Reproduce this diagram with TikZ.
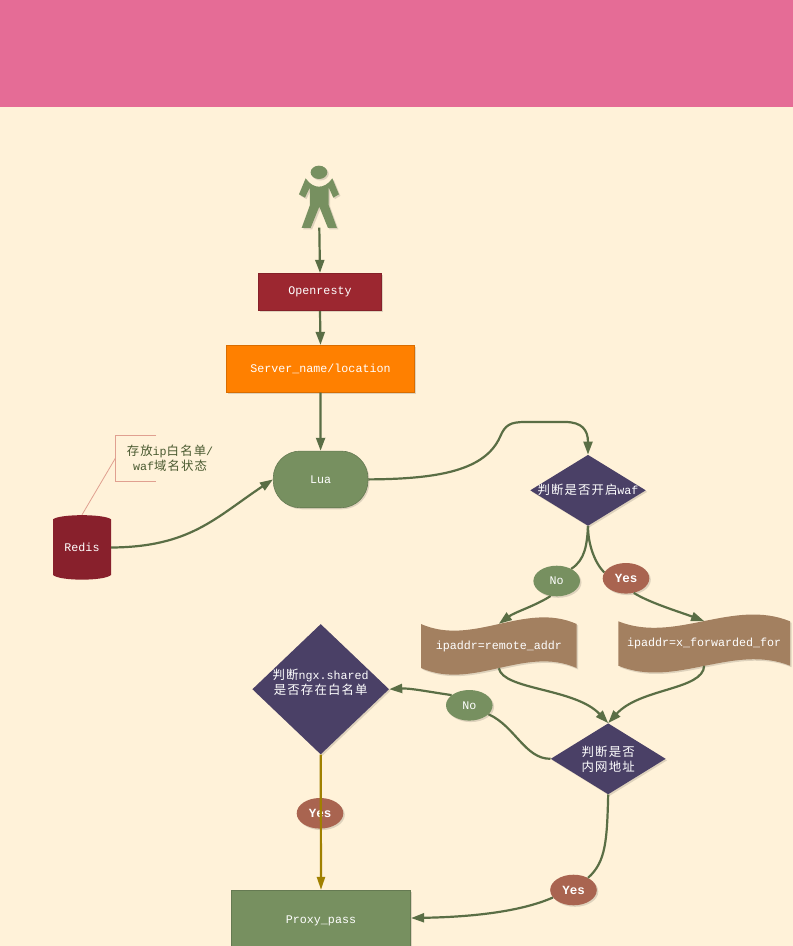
\documentclass[tikz,border=0pt]{standalone}
\usepackage{fontspec}
\usetikzlibrary{arrows.meta,shapes.geometric,shadows}
\setmonofont{Liberation Mono}
\newfontfamily\cjk[LetterSpace=9]{Noto Sans CJK SC}
\newcommand{\cj}[1]{{\cjk\fontsize{12.4}{14}\selectfont #1}}
\definecolor{bgc}{HTML}{FFF2D9}
\definecolor{pinkc}{HTML}{E56C96}
\definecolor{wine}{HTML}{9C2730}
\definecolor{orangec}{HTML}{FF8000}
\definecolor{greenc}{HTML}{779060}
\definecolor{redisc}{HTML}{88202C}
\definecolor{purplec}{HTML}{4A4066}
\definecolor{tapec}{HTML}{A38060}
\definecolor{yesc}{HTML}{A96450}
\definecolor{linec}{HTML}{5A6E45}
\definecolor{goldc}{HTML}{A08000}
\definecolor{notec}{HTML}{E0A090}
\definecolor{notetext}{HTML}{4A5A30}
\tikzset{
  softshadow/.style={general shadow={shadow xshift=1.5pt,shadow yshift=-1.5pt,fill=black,opacity=.13}},
  labeltext/.style={text=white,font=\ttfamily\fontsize{11.67}{15}\selectfont,align=center,inner sep=0pt},
  flatbox/.style={labeltext,draw=#1!85!black,fill=#1,line width=.8pt,softshadow},
  decide/.style={diamond,fill=purplec,softshadow,inner sep=0pt,minimum width=#1},
  decidetext/.style={labeltext},
  pill/.style={ellipse,fill=#1,softshadow,labeltext,minimum width=46.6pt,minimum height=30.6pt},
  yestext/.style={font=\ttfamily\bfseries\fontsize{12.5}{15}\selectfont},
  holder/.style={labeltext,rectangle},
  link/.style={draw=linec,line width=2.2pt,-{Triangle[length=13pt,width=9pt]}},
  plainlink/.style={draw=linec,line width=2.2pt},
  goldlink/.style={draw=goldc,line width=2.2pt,-{Triangle[length=13pt,width=8pt]}}
}
\begin{document}
\begin{tikzpicture}[x=1pt,y=-1pt]
\useasboundingbox (0,0) rectangle (793,946);
\fill[bgc] (0,0) rectangle (793,946);
\fill[pinkc] (0,0) rectangle (793,107);

% person
\begin{scope}[shift={(40,150)},x=.3333pt,y=-.3333pt]
  \fill[greenc,softshadow] (837,67) ellipse [x radius=25,y radius=20];
  \fill[greenc,softshadow] (797,85) -- (777,133) -- (795,143) -- (810,112) -- (810,165) -- (785,234)
    -- (812,234) -- (838,170) -- (864,234) -- (891,234) -- (866,165) -- (866,112) -- (880,143)
    -- (897,133) -- (877,85) .. controls (865,103) and (850,110) .. (837,110)
    .. controls (824,110) and (809,103) .. (797,85) -- cycle;
  \coordinate (person) at (838,233);
\end{scope}

% wave and cylinder bodies
\fill[tapec,softshadow] (421,624) .. controls (473,647) and (525,601) .. (576.7,624)
  -- (576.7,668) .. controls (525,645) and (473,691) .. (421,668) -- cycle;
\fill[tapec,softshadow] (618.3,621.3) .. controls (675,644) and (733,598) .. (790,621.3)
  -- (790,665.7) .. controls (733,643) and (675,689) .. (618.3,665.7) -- cycle;
\fill[redisc] (53,519.3) .. controls (60,513.8) and (104,513.8) .. (111,519.3) -- (111,575)
  .. controls (104,581.2) and (60,581.2) .. (53,575) -- cycle;

% nodes
\node[flatbox=wine,rectangle,minimum width=123.4pt,minimum height=37.4pt] (open) at (320,292) {\raisebox{-1pt}{Openresty}};
\node[flatbox=orangec,rectangle,minimum width=188.4pt,minimum height=47pt] (server) at (320.5,368.8) {Server\_name/location};
\node[labeltext,rectangle,fill=greenc,draw=greenc!85!black,line width=.6pt,rounded corners=27pt,softshadow,minimum width=94.7pt,minimum height=56.7pt] (lua) at (320.6,479.4) {Lua};
\node[holder,minimum width=58pt,minimum height=65pt] (redis) at (82,547.5) {Redis};
\node[labeltext,text=notetext] (note) at (170,458.5) {\cj{存放}ip\cj{白名单}/\\[0pt]waf\cj{域名状态}};
\coordinate (notetop) at (156,435.5);
\coordinate (noteleft) at (115.5,458);
\coordinate (notebot) at (156,481.5);
\draw[notec,line width=.9pt] (notetop) -| (noteleft) |- (notebot);
\draw[notec,line width=.8pt] (noteleft) -- (redis.north);

\node[decide=115.6pt,minimum height=71pt,label={[decidetext]center:\cj{判断是否开启}waf}] (d1) at (588,490.3) {};
\node[decide=115pt,minimum height=71pt,label={[decidetext]center:\cj{判断是否}\\\cj{内网地址}}] (d2) at (608.2,758.8) {};
\node[decide=136.7pt,minimum height=130.3pt,label={[decidetext,yshift=7pt]center:\cj{判断}ngx.shared\\\cj{是否存在白名单}}] (d3) at (320.7,689.2) {};

\node[holder,minimum width=155.7pt,minimum height=44pt] (tape1) at (498.85,646) {\raisebox{-1.5pt}{ipaddr=remote\_addr}};
\node[holder,minimum width=171.7pt,minimum height=44.4pt] (tape2) at (704.15,643.5) {\raisebox{-1.5pt}{ipaddr=x\_forwarded\_for}};

\node[pill=greenc] (no1) at (556.7,581) {No};
\node[pill=yesc,yestext] (yes1) at (626,578.3) {Yes};
\node[pill=greenc] (no2) at (469.3,705.3) {No};
\node[pill=yesc,yestext] (yes2) at (320,813.3) {Yes};
\node[pill=yesc,yestext] (yes3) at (573.5,890) {Yes};
\node[flatbox=greenc,rectangle,minimum width=179.4pt,minimum height=62pt] (proxy) at (321,921.3) {\raisebox{4pt}{Proxy\_pass}};

% connectors
\draw[link] (person) -- (open.north);
\draw[link] (open.south) -- (server.north);
\draw[link] (server.south) -- (lua.north);
\draw[link] (redis.east) .. controls (190,547) and (215,518) .. (lua.west);
\draw[link] (lua.east) .. controls (440,479) and (485,470) .. (500,437)
  .. controls (505,425) and (510,422) .. (525,422) -- (565,422)
  .. controls (582,422) and (588,430) .. (d1.north);
\draw[plainlink] (d1.south) .. controls (587,545) and (585,560) .. (no1.40);
\draw[plainlink] (d1.south) .. controls (588,545) and (595,563) .. (yes1.165);
\draw[link] (no1.-112) .. controls (535,606) and (515,612) .. (tape1.north);
\draw[link] (yes1.-62) .. controls (650,603) and (680,612) .. (tape2.north);
\draw[link] (tape1.south) .. controls (503,690) and (575,688) .. (d2.north);
\draw[link] (tape2.south) .. controls (703,690) and (640,688) .. (d2.north);
\draw[plainlink] (d2.west) .. controls (525,759) and (515,726) .. (no2.-25);
\draw[link] (no2.150) .. controls (430,692) and (410,688) .. (d3.east);
\draw[plainlink] (d2.south) .. controls (607,840) and (606,862) .. (yes3.40);
\draw[link] (yes3.200) .. controls (520,912) and (470,917) .. (proxy.east |- 0,918);
\draw[goldlink] (d3.south) -- (proxy.north);
\end{tikzpicture}
\end{document}
